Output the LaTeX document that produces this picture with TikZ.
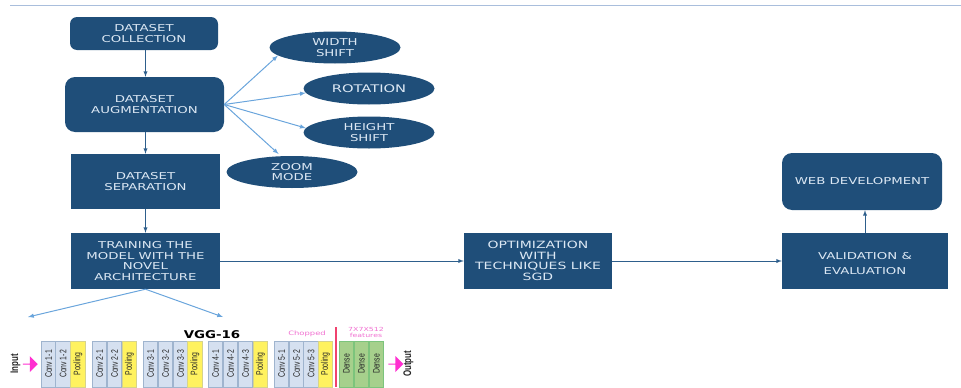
\documentclass[tikz,border=0pt]{standalone}
\usepackage{fontspec}
\setmainfont{DejaVu Sans}[FakeStretch=1.4]
\newfontfamily\vggfont{Liberation Sans}[FakeStretch=0.72]
\newfontfamily\boldfont{DejaVu Sans}[FakeStretch=1.25]
\usetikzlibrary{shapes.geometric,shapes.arrows}
\definecolor{boxblue}{HTML}{1F4E79}
\definecolor{boxtext}{HTML}{DCE8F4}
\definecolor{darkarrow}{HTML}{2E5F8C}
\definecolor{lightarrow}{HTML}{6AA5DC}
\definecolor{topline}{HTML}{A9BEDC}
\definecolor{convfill}{HTML}{D5E0F0}
\definecolor{convline}{HTML}{9FB4CE}
\definecolor{poolfill}{HTML}{FFF25F}
\definecolor{poolline}{HTML}{D6D38C}
\definecolor{densefill}{HTML}{A6D08C}
\definecolor{denseline}{HTML}{7CC47C}
\definecolor{pinktext}{HTML}{F070D0}
\definecolor{magentaarrow}{HTML}{FF2FD0}
\definecolor{redline}{HTML}{F0426E}
\tikzset{
  stepfont/.style={font=\fontsize{9.5}{10.5}\selectfont,text=boxtext,align=center,inner sep=0pt},
  bigtext/.style={font=\fontsize{10}{10.5}\selectfont},
  squarebox/.style={rectangle,fill=boxblue,stepfont},
  roundbox/.style={rectangle,rounded corners=7pt,fill=boxblue,stepfont},
  bubble/.style={ellipse,fill=boxblue,stepfont,minimum width=131pt,minimum height=32pt},
  layer/.style={rectangle,rotate=90,draw,line width=0.8pt,minimum width=46pt,minimum height=14.5pt,inner sep=0pt,
    font=\vggfont\fontsize{9.5}{10}\selectfont,text=black!85},
  conv/.style={layer,fill=convfill,draw=convline},
  pool/.style={layer,fill=poolfill,draw=poolline},
  dense/.style={layer,fill=densefill,draw=denseline},
  pinkarrow/.style={single arrow,fill=magentaarrow,minimum width=16pt,minimum height=15pt,
    single arrow head extend=3pt,single arrow head indent=0pt,inner sep=0pt},
  sidelabel/.style={rotate=90,font=\vggfont\bfseries\fontsize{11}{12}\selectfont,text=black!85,inner sep=0pt}
}
\begin{document}
\begin{tikzpicture}[x=1pt,y=-1pt]
      \useasboundingbox (0,0) rectangle (961,388);
      \coordinate (lineleft) at (10,5);
      \coordinate (lineright) at (961,5);
      \draw[topline,line width=0.8pt] (lineleft) -- (lineright);
      % flow boxes
      \node[roundbox,minimum width=148pt,minimum height=33pt] (collection) at (144,33.5) {DATASET\\COLLECTION};
      \node[roundbox,minimum width=159pt,minimum height=55pt,rounded corners=10pt] (augmentation) at (144.5,104.5) {DATASET\\AUGMENTATION};
      \node[squarebox,minimum width=149pt,minimum height=55pt] (separation) at (145.5,181.5) {DATASET\\SEPARATION};
      \node[squarebox,minimum width=149pt,minimum height=56pt] (training) at (145.5,261) {TRAINING THE\\MODEL WITH THE\\NOVEL\\ARCHITECTURE};
      \node[squarebox,bigtext,minimum width=148pt,minimum height=56pt] (optimization) at (538,261) {OPTIMIZATION\\WITH\\TECHNIQUES LIKE\\SGD};
      \node[squarebox,minimum width=166pt,minimum height=56pt] (validation) at (865,261) {\rule{0pt}{13pt}VALIDATION \&\\[4.5pt]EVALUATION};
      \node[roundbox,minimum width=160pt,minimum height=57pt,rounded corners=10pt] (web) at (862,181.5) {WEB DEVELOPMENT};
      % augmentation kinds
      \node[bubble] (width) at (335,47.5) {WIDTH\\SHIFT};
      \node[bubble,font=\fontsize{10.5}{11}\selectfont] (rotation) at (369,88.5) {ROTATION};
      \node[bubble] (height) at (369,132.5) {HEIGHT\\SHIFT};
      \node[bubble] (zoom) at (292,172) {ZOOM\\MODE};
      % free ends below the training box
      \coordinate (leftend) at (28,317);
      \coordinate (rightend) at (223,317);
      \begin{scope}[every edge/.style={draw,darkarrow,line width=0.9pt,-latex}]
        \path (collection.south -| separation) edge (augmentation.north -| separation);
        \path (augmentation.south -| separation) edge (separation);
        \path (separation) edge (training);
        \path (training) edge (optimization);
        \path (optimization) edge (validation);
        \path (validation.north) edge (validation.north |- web.south);
      \end{scope}
      \begin{scope}[every edge/.style={draw,lightarrow,line width=1pt,-latex}]
        \path (augmentation.east) edge (width.188);
        \path (augmentation.east) edge (rotation.184);
        \path (augmentation.east) edge (height.176);
        \path (augmentation.east) edge[shorten >=3pt] (zoom.125);
        \path (training.south) edge (leftend);
        \path (training.south) edge (rightend);
      \end{scope}
      % vgg blocks
      \node[conv] (c11) at (48.5,364) {Conv 1-1};
      \node[conv] (c12) at (63,364) {Conv 1-2};
      \node[pool] (p1) at (78,364) {Pooling};
      \node[conv] (c21) at (99.5,364) {Conv 2-1};
      \node[conv] (c22) at (114.5,364) {Conv 2-2};
      \node[pool] (p2) at (129.5,364) {Pooling};
      \node[conv] (c31) at (150.5,364) {Conv 3-1};
      \node[conv] (c32) at (165.5,364) {Conv 3-2};
      \node[conv] (c33) at (180.5,364) {Conv 3-3};
      \node[pool] (p3) at (195,364) {Pooling};
      \node[conv] (c41) at (215.5,364) {Conv 4-1};
      \node[conv] (c42) at (230.5,364) {Conv 4-2};
      \node[conv] (c43) at (245.5,364) {Conv 4-3};
      \node[pool] (p4) at (260.5,364) {Pooling};
      \node[conv] (c51) at (281.5,364) {Conv 5-1};
      \node[conv] (c52) at (296.5,364) {Conv 5-2};
      \node[conv] (c53) at (311,364) {Conv 5-3};
      \node[pool] (p5) at (325.5,364) {Pooling};
      \node[dense] (d1) at (346.5,364) {Dense};
      \node[dense] (d2) at (361.5,364) {Dense};
      \node[dense] (d3) at (376.5,364) {Dense};
      \coordinate (cuttop) at (336,327);
      \coordinate (cutbottom) at (336,387);
      \draw[redline,line width=1.6pt] (cuttop) -- (cutbottom);
      \node[pinkarrow] (inarrow) at (30,364) {};
      \node[pinkarrow] (outarrow) at (395.5,364) {};
      \node[sidelabel] (input) at (15.5,364) {Input};
      \node[sidelabel] (output) at (408.5,364) {Output};
      \node[font=\boldfont\bfseries\fontsize{10.7}{12}\selectfont,inner sep=0pt] (vgg) at (212,334.5) {VGG-16};
      \node[font=\fontsize{6}{7}\selectfont,text=pinktext,inner sep=0pt] (chopped) at (307,334) {Chopped};
      \node[font=\fontsize{5.6}{6.5}\selectfont,text=pinktext,align=center,inner sep=0pt] (features) at (366,332.5) {7X7X512\\features};
    \end{tikzpicture}
\end{document}
